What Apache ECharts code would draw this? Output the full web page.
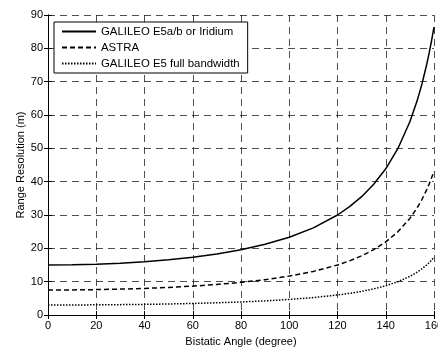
<!DOCTYPE html>
<html><head><meta charset="utf-8">
<script src="https://cdn.jsdelivr.net/npm/echarts@6/dist/echarts.min.js"></script>
<style>html,body{margin:0;padding:0;background:#fff}#c{width:438px;height:347px}</style>
</head><body><div id="c"></div>
<script>
const angles = [0,10,20,30,40,50,60,70,80,90,100,110,120,125,130,135,140,145,150,153,155,157,158,159,160];
const galileoE5ab = [15,15.06,15.23,15.53,15.96,16.55,17.32,18.31,19.58,21.21,23.34,26.15,30,32.49,35.49,39.2,43.86,49.88,57.96,64.25,69.3,75.24,78.61,82.31,86.38];
const astra = [7.5,7.53,7.62,7.77,7.98,8.28,8.66,9.16,9.79,10.61,11.67,13.08,15,16.24,17.75,19.6,21.93,24.94,28.98,32.13,34.65,37.62,39.31,41.15,43.19];
const galileoE5full = [3,3.01,3.05,3.11,3.19,3.31,3.46,3.66,3.92,4.24,4.67,5.23,6,6.5,7.1,7.84,8.77,9.98,11.59,12.85,13.86,15.05,15.72,16.46,17.28];
const seriesNames = ['GALILEO E5a/b or Iridium','ASTRA','GALILEO E5 full bandwidth'];
const xTicks = {min:0,max:160,interval:20};
const yTicks = {min:0,max:90,interval:10};

const font = 'Liberation Sans, Arial, sans-serif';
const chart = echarts.init(document.getElementById('c'), null, {renderer:'canvas'});
const pair = arr => angles.map((a,i)=>[a,arr[i]]);
const grid = {type:[7,5], color:'#222', width:0.8};
chart.setOption({
  animation:false,
  grid:{left:48,right:4,top:15,bottom:32,containLabel:false,outerBoundsMode:'none'},
  legend:{
    orient:'vertical', left:54, top:22,
    data:seriesNames,
    itemWidth:34, itemHeight:12, itemGap:5,
    padding:[4,8,4,7],
    borderColor:'#000', borderWidth:1, backgroundColor:'#fff',
    itemStyle:{opacity:0},
    textStyle:{fontFamily:font,fontSize:11.4,color:'#000'},
    z:10
  },
  xAxis:[{
    type:'value', min:xTicks.min, max:xTicks.max, interval:xTicks.interval,
    name:'Bistatic Angle (degree)', nameLocation:'middle', nameGap:21, nameMoveOverlap:false,
    nameTextStyle:{fontFamily:font,fontSize:11,color:'#000'},
    axisLine:{lineStyle:{color:'#000',width:1}},
    axisTick:{inside:true,length:4,lineStyle:{color:'#000'}},
    axisLabel:{fontFamily:font,fontSize:11,color:'#000',margin:5,hideOverlap:false},
    splitLine:{show:true,lineStyle:grid}
  },{
    type:'value', position:'top', min:xTicks.min, max:xTicks.max, interval:xTicks.interval,
    axisLine:{lineStyle:{color:'#000',width:1}},
    axisTick:{inside:true,length:4,lineStyle:{color:'#000'}},
    axisLabel:{show:false}, splitLine:{show:false}
  }],
  yAxis:[{
    type:'value', min:yTicks.min, max:yTicks.max, interval:yTicks.interval,
    name:'Range Resolution (m)', nameLocation:'middle', nameGap:22, nameMoveOverlap:false,
    nameTextStyle:{fontFamily:font,fontSize:11,color:'#000'},
    axisLine:{show:true,lineStyle:{color:'#000',width:1}},
    axisTick:{show:true,inside:true,length:4,lineStyle:{color:'#000'}},
    axisLabel:{fontFamily:font,fontSize:11,color:'#000',margin:5},
    splitLine:{show:true,lineStyle:grid}
  },{
    type:'value', position:'right', min:yTicks.min, max:yTicks.max, interval:yTicks.interval,
    axisLine:{show:true,lineStyle:{color:'#000',width:1}},
    axisTick:{show:true,inside:true,length:4,lineStyle:{color:'#000'}},
    axisLabel:{show:false}, splitLine:{show:false}
  }],
  series:[
    {name:seriesNames[0],type:'line',data:pair(galileoE5ab),symbol:'none',
     itemStyle:{color:'#000'},lineStyle:{color:'#000',width:1.5,type:'solid'},z:5},
    {name:seriesNames[1],type:'line',data:pair(astra),symbol:'none',
     itemStyle:{color:'#000'},lineStyle:{color:'#000',width:1.5,type:[5,3]},z:5},
    {name:seriesNames[2],type:'line',data:pair(galileoE5full),symbol:'none',
     itemStyle:{color:'#000'},lineStyle:{color:'#000',width:1.5,type:[1.5,1.5]},z:5}
  ]
});
</script></body></html>
